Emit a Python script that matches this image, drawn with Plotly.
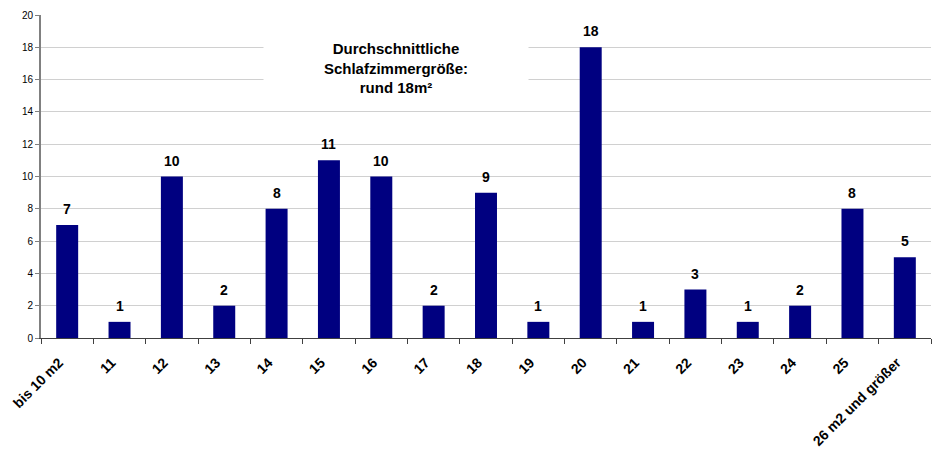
import plotly.graph_objects as go

categories = ["bis 10 m2", "11", "12", "13", "14", "15", "16", "17", "18", "19",
              "20", "21", "22", "23", "24", "25", "26 m2 und größer"]
values = [7, 1, 10, 2, 8, 11, 10, 2, 9, 1, 18, 1, 3, 1, 2, 8, 5]
y_ticks = [0, 2, 4, 6, 8, 10, 12, 14, 16, 18, 20]
note = "Durchschnittliche<br>Schlafzimmergröße:<br>rund 18m²"

fig = go.Figure(go.Bar(
    x=categories, y=values,
    marker=dict(color="#000080", line=dict(width=0)),
    hoverinfo="x+y",
))

value_labels = [dict(
    x=i, y=v, xref="x", yref="y", text="<b>%d</b>" % v, showarrow=False,
    yanchor="bottom", yshift=6,
    font=dict(family="Liberation Sans, Arial", size=14, color="black"),
) for i, v in enumerate(values)]

fig.update_layout(
    width=940, height=452,
    margin=dict(l=41, r=9, t=15, b=114),
    plot_bgcolor="white", paper_bgcolor="white",
    bargap=0.58,
    showlegend=False,
    font=dict(family="Liberation Sans, Arial", color="black"),
    xaxis=dict(
        type="category", tickangle=-45, tickson="boundaries",
        ticks="outside", ticklen=5, tickcolor="#404040",
        showline=True, linecolor="#404040", linewidth=1,
        tickfont=dict(size=14, color="black"),
        tickprefix="<b>", ticksuffix="</b>",
        ticklabelstandoff=10, ticklabelshift=-8,
        showgrid=False, automargin=False,
        range=[-0.5, len(categories) - 0.5],
    ),
    yaxis=dict(
        range=[0, 20], tickvals=y_ticks,
        ticks="outside", ticklen=4, tickcolor="#808080",
        showline=True, linecolor="#808080", linewidth=2,
        showgrid=True, gridcolor="#d0d0d0", gridwidth=1,
        tickfont=dict(size=10, color="black"),
        zeroline=False, automargin=False,
    ),
    annotations=[dict(
        xref="paper", yref="paper", x=0.399, y=0.835,
        text="<b>" + note + "</b>", showarrow=False,
        font=dict(size=15, color="black"),
        bgcolor="white", width=262, height=70, align="center",
        xanchor="center", yanchor="middle",
    )] + value_labels,
)

fig.write_html("out.html", config={"displayModeBar": False},
               post_script="document.body.style.margin='0';document.body.style.overflow='hidden';")
